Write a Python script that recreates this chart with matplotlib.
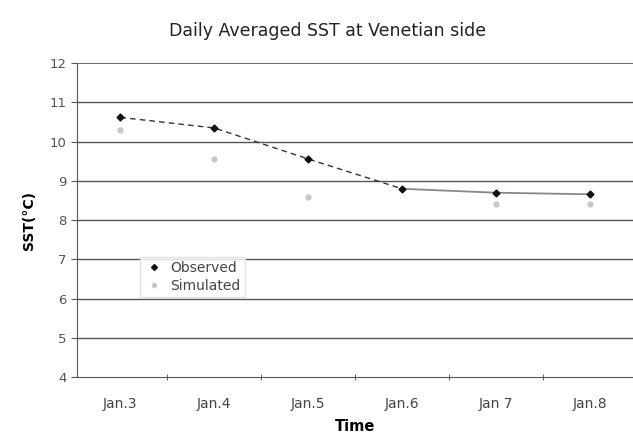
import numpy as np
import matplotlib.pyplot as plt
from matplotlib.lines import Line2D

# data
days = ['Jan.3', 'Jan.4', 'Jan.5', 'Jan.6', 'Jan 7', 'Jan.8']
observed = [10.62, 10.35, 9.56, 8.80, 8.70, 8.66]
simulated = [10.30, 9.56, 8.58, np.nan, 8.42, 8.42]
yticks = [4, 5, 6, 7, 8, 9, 10, 11, 12]

fig = plt.figure(figsize=(6.33, 4.36), dpi=100)
ax = fig.add_axes([0.122, 0.135, 0.878, 0.72])

x = np.arange(len(days))

# horizontal grid
for yv in yticks[1:]:
    ax.axhline(yv, color='#555555', lw=1.0 if yv < 12 else 0.6, zorder=1)

# observed: dashed for the falling part, solid gray afterwards
ax.plot(x[:4], observed[:4], color='#333333', ls=(0, (4, 3)), lw=1.0, zorder=2)
ax.plot(x[3:], observed[3:], color='#888888', ls='-', lw=1.3, zorder=2)
ax.plot(x, observed, ls='none', marker='D', ms=3.5, color='#111111', zorder=3)
ax.plot(x, simulated, ls='none', marker='o', ms=3.5, color='#c8c8c8', zorder=3)

ax.set_xlim(-0.46, 5.46)
ax.set_ylim(4, 12)
ax.set_xticks(x)
ax.set_xticklabels(days)
ax.set_xticks(x[:-1] + 0.5, minor=True)
ax.tick_params(axis='x', which='major', length=0, pad=14, labelsize=10, colors='#444444')
ax.tick_params(axis='x', which='minor', length=5, direction='inout', color='#444444')
ax.set_yticks(yticks)
ax.tick_params(axis='y', length=4, labelsize=9.5, colors='#555555')

for s in ['top', 'right']:
    ax.spines[s].set_visible(False)
ax.spines['left'].set_color('#555555')
ax.spines['bottom'].set_color('#555555')

fig.text(0.518, 0.93, 'Daily Averaged SST at Venetian side', fontsize=12.5,
         color='#222222', ha='center', va='center')
ax.set_xlabel('Time', fontsize=10.5, fontweight='bold', labelpad=6)
ax.set_ylabel('SST(°C)', fontsize=10, fontweight='bold', labelpad=10)

handles = [
    Line2D([], [], ls='none', marker='D', ms=3, color='#111111'),
    Line2D([], [], ls='none', marker='o', ms=3, color='#c8c8c8'),
]
leg = ax.legend(handles, ['Observed', 'Simulated'], loc='upper left',
                bbox_to_anchor=(0.1, 0.405), fontsize=10, frameon=True,
                fancybox=False, edgecolor='#dddddd', handletextpad=0.4,
                borderpad=0.3, labelspacing=0.25, handlelength=1.5)
for t in leg.get_texts():
    t.set_color('#444444')

fig.savefig('out.png', dpi=100)
